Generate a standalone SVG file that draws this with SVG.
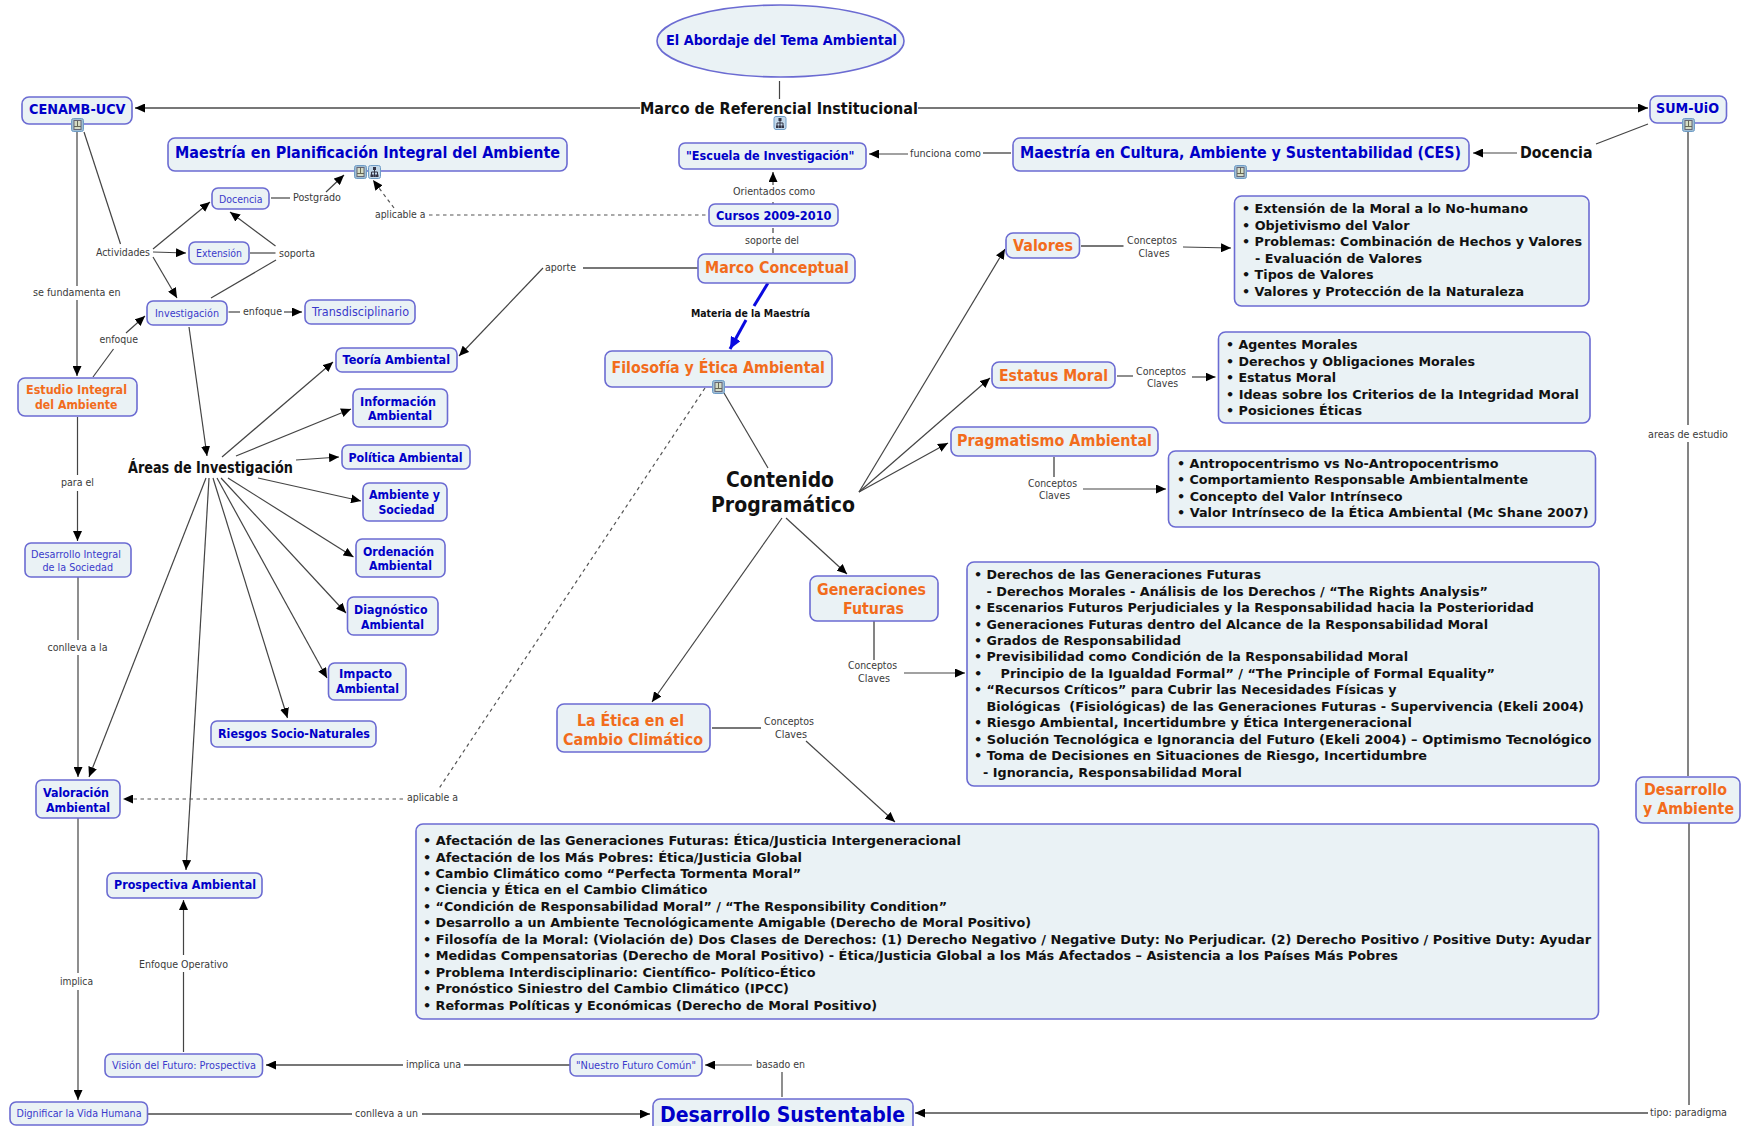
<svg xmlns="http://www.w3.org/2000/svg" width="1744" height="1126" viewBox="0 0 1744 1126">
<style>
text{font-family:"DejaVu Sans","Liberation Sans",sans-serif}
.n{fill:#eaf2f5;stroke:#6b6bd2;stroke-width:1.6}
.b{font-weight:700;font-size:12.5px;fill:#0000c8}
.bl{font-weight:700;font-size:15.5px;fill:#0000c8}
.o{font-weight:700;font-size:12.5px;fill:#f26c1c}
.ol{font-weight:700;font-size:15.5px;fill:#f26c1c}
.s{font-size:10.5px;fill:#3a3acb}
.l{font-size:10.5px;fill:#3b3b3b}
.k{font-weight:700;font-size:15.5px;fill:#111}
.t{font-weight:700;font-size:13px;fill:#111}
.c path,.c line{fill:none;stroke:#444;stroke-width:1.2}
.c .h{stroke:#777;stroke-width:1.8}
.c .d{stroke:#555;stroke-width:1.2;stroke-dasharray:3.5 3.5}
.c .bluew{stroke:#0a0ae0;stroke-width:3}
</style>
<defs>
<marker id="a" viewBox="0 0 10 9" refX="10" refY="4.5" markerWidth="10" markerHeight="9" orient="auto" markerUnits="userSpaceOnUse"><path d="M0 0L10 4.5L0 9Z" fill="#000"/></marker>
<marker id="ab" viewBox="0 0 12 11" refX="12" refY="5.5" markerWidth="12" markerHeight="11" orient="auto" markerUnits="userSpaceOnUse"><path d="M0 0L12 5.5L0 11Z" fill="#0a0ae0"/></marker>
<symbol id="doc" viewBox="0 0 13 14"><rect x=".5" y=".5" width="12" height="13" rx="2" fill="#9fbdd2" stroke="#6f9cc6"/><rect x="3" y="2.500" width="7" height="9" fill="#d5dcc4" stroke="#667"/><path d="M3 8.500H10M6.500 2.500V8.500" stroke="#665" fill="none"/></symbol>
<symbol id="grp" viewBox="0 0 13 14"><rect x=".5" y=".5" width="12" height="13" rx="2" fill="#c3d8ea" stroke="#6f9cc6"/><path d="M6.500 2.500V6M3.500 11V7H9.500V11M6.500 6V11" stroke="#334" fill="none"/><rect x="5" y="2" width="3" height="3" fill="#334"/><rect x="2.500" y="9.500" width="2.500" height="2.500" fill="#334"/><rect x="8" y="9.500" width="2.500" height="2.500" fill="#334"/><rect x="5.300" y="9.500" width="2.500" height="2.500" fill="#334"/></symbol>
</defs>
<rect width="1744" height="1126" fill="#fff"/>
<g id="connectors" class="c">
<line x1="779.500" y1="81" x2="779.500" y2="99"/>
<line class="h" x1="640" y1="108" x2="135" y2="108" marker-end="url(#a)"/>
<line class="h" x1="918" y1="108" x2="1648" y2="108" marker-end="url(#a)"/>
<line x1="1011" y1="153" x2="983" y2="153" class="h"/>
<line x1="908" y1="154" x2="869" y2="154" marker-end="url(#a)"/>
<line x1="1517" y1="153" x2="1473" y2="153" marker-end="url(#a)"/>
<line x1="1648" y1="124" x2="1596" y2="144"/>
<line x1="77" y1="132" x2="77" y2="286"/>
<line x1="77" y1="300" x2="77" y2="376" marker-end="url(#a)"/>
<line x1="84" y1="132" x2="120.500" y2="244"/>
<line x1="153" y1="249" x2="210" y2="202" marker-end="url(#a)"/>
<line x1="153" y1="252" x2="186" y2="253" marker-end="url(#a)"/>
<line x1="153" y1="257" x2="177" y2="298" marker-end="url(#a)"/>
<line x1="271" y1="198" x2="290" y2="198"/>
<line x1="326" y1="192" x2="344" y2="175" marker-end="url(#a)"/>
<line x1="250" y1="253" x2="275.500" y2="253"/>
<line x1="275.500" y1="246" x2="230" y2="212" marker-end="url(#a)"/>
<line x1="211" y1="298" x2="276" y2="260"/>
<line x1="93" y1="377" x2="113.500" y2="349"/>
<line x1="126" y1="333" x2="145" y2="316" marker-end="url(#a)"/>
<line x1="228.500" y1="312" x2="240" y2="312"/>
<line x1="284" y1="312" x2="302" y2="312" marker-end="url(#a)"/>
<line class="d" x1="429" y1="215" x2="708" y2="215"/>
<line class="d" x1="394" y1="208" x2="373" y2="180" marker-end="url(#a)"/>
<line class="h" x1="698" y1="268" x2="583" y2="268"/>
<line x1="543" y1="268" x2="459" y2="356" marker-end="url(#a)"/>
<line x1="773" y1="202" x2="773" y2="204"/>
<line x1="773" y1="185" x2="773" y2="172" marker-end="url(#a)"/>
<line x1="773" y1="228" x2="773" y2="233"/>
<line x1="773" y1="248" x2="773" y2="253"/>
<line class="bluew" x1="768" y1="283" x2="754" y2="306"/>
<line class="bluew" x1="746" y1="320" x2="730" y2="349" marker-end="url(#ab)"/>
<line class="d" x1="705" y1="388" x2="438" y2="790"/>
<line class="d" x1="403" y1="799" x2="123" y2="799" marker-end="url(#a)"/>
<line x1="724" y1="393" x2="768" y2="468"/>
<line x1="859" y1="492" x2="1005" y2="249" marker-end="url(#a)"/>
<line x1="859" y1="492" x2="990" y2="378" marker-end="url(#a)"/>
<line x1="859" y1="492" x2="948" y2="443" marker-end="url(#a)"/>
<line x1="786" y1="518" x2="847" y2="574" marker-end="url(#a)"/>
<line x1="782" y1="518" x2="652" y2="702" marker-end="url(#a)"/>
<line class="h" x1="1081" y1="246" x2="1123.500" y2="246"/>
<line x1="1183" y1="247" x2="1231" y2="248" marker-end="url(#a)"/>
<line x1="1117" y1="376" x2="1133" y2="376"/>
<line x1="1192" y1="377" x2="1215.500" y2="377" marker-end="url(#a)"/>
<line class="h" x1="1054" y1="457" x2="1054" y2="477"/>
<line x1="1083" y1="489" x2="1166" y2="489" marker-end="url(#a)"/>
<line class="h" x1="874" y1="621" x2="874" y2="660"/>
<line x1="904" y1="673" x2="965" y2="673" marker-end="url(#a)"/>
<line class="h" x1="712" y1="728" x2="761" y2="728"/>
<line x1="806" y1="741" x2="895" y2="822" marker-end="url(#a)"/>
<line class="h" x1="1688" y1="132" x2="1688" y2="425"/>
<line class="h" x1="1688" y1="442" x2="1688" y2="776"/>
<line class="h" x1="1689" y1="823" x2="1689" y2="1105"/>
<line class="h" x1="1648" y1="1113" x2="915" y2="1113" marker-end="url(#a)"/>
<line x1="782" y1="1072" x2="782" y2="1097"/>
<line x1="752" y1="1065" x2="705" y2="1065" marker-end="url(#a)"/>
<line class="h" x1="570" y1="1065" x2="464" y2="1065"/>
<line class="h" x1="403" y1="1065" x2="266" y2="1065" marker-end="url(#a)"/>
<line x1="148" y1="1114" x2="352" y2="1114" class="h"/>
<line x1="422" y1="1114" x2="650" y2="1114" class="h" marker-end="url(#a)"/>
<line x1="183.500" y1="1052" x2="183.500" y2="972"/>
<line x1="183.500" y1="955" x2="183.500" y2="900" marker-end="url(#a)"/>
<line x1="78" y1="818" x2="78" y2="973"/>
<line x1="78" y1="990" x2="78" y2="1100" marker-end="url(#a)"/>
<line x1="77.500" y1="417" x2="77.500" y2="475"/>
<line x1="77.500" y1="491" x2="77.500" y2="541" marker-end="url(#a)"/>
<line x1="78" y1="577" x2="78" y2="640"/>
<line x1="78" y1="655" x2="78" y2="777" marker-end="url(#a)"/>
<line x1="189" y1="327" x2="207" y2="456" marker-end="url(#a)"/>
<line x1="206" y1="478" x2="89" y2="777" marker-end="url(#a)"/>
<line x1="209" y1="478" x2="186" y2="870" marker-end="url(#a)"/>
<line x1="222" y1="457" x2="333" y2="362" marker-end="url(#a)"/>
<line x1="236" y1="456" x2="351" y2="409" marker-end="url(#a)"/>
<line x1="296" y1="460" x2="339" y2="457" marker-end="url(#a)"/>
<line x1="258" y1="478" x2="361" y2="501" marker-end="url(#a)"/>
<line x1="228" y1="478" x2="353.500" y2="557" marker-end="url(#a)"/>
<line x1="221" y1="478" x2="346" y2="613" marker-end="url(#a)"/>
<line x1="217" y1="478" x2="327" y2="678" marker-end="url(#a)"/>
<line x1="213" y1="478" x2="287.500" y2="718" marker-end="url(#a)"/>
</g>
<g id="link-labels">
<text class="l" x="293" y="201" textLength="48" lengthAdjust="spacingAndGlyphs">Postgrado</text>
<text class="l" x="375" y="218" textLength="50.500" lengthAdjust="spacingAndGlyphs">aplicable a</text>
<text class="l" x="96" y="256" textLength="54" lengthAdjust="spacingAndGlyphs">Actividades</text>
<text class="l" x="279" y="257" textLength="36" lengthAdjust="spacingAndGlyphs">soporta</text>
<text class="l" x="33" y="296" textLength="87.500" lengthAdjust="spacingAndGlyphs">se fundamenta en</text>
<text class="l" x="99.500" y="343" textLength="38.500" lengthAdjust="spacingAndGlyphs">enfoque</text>
<text class="l" x="243" y="315" textLength="39" lengthAdjust="spacingAndGlyphs">enfoque</text>
<text class="l" x="545" y="271" textLength="31" lengthAdjust="spacingAndGlyphs">aporte</text>
<text class="l" x="910" y="157" textLength="71" lengthAdjust="spacingAndGlyphs">funciona como</text>
<text class="l" x="733" y="195" textLength="82" lengthAdjust="spacingAndGlyphs">Orientados como</text>
<text class="l" x="745" y="244" textLength="54" lengthAdjust="spacingAndGlyphs">soporte del</text>
<text x="691" y="317" textLength="119" lengthAdjust="spacingAndGlyphs" font-size="10.500" font-weight="700" fill="#111">Materia de la Maestría</text>
<text class="l" x="1127" y="244" textLength="50" lengthAdjust="spacingAndGlyphs">Conceptos</text>
<text class="l" x="1138.500" y="257" textLength="31" lengthAdjust="spacingAndGlyphs">Claves</text>
<text class="l" x="1136" y="375" textLength="50" lengthAdjust="spacingAndGlyphs">Conceptos</text>
<text class="l" x="1147" y="387" textLength="31" lengthAdjust="spacingAndGlyphs">Claves</text>
<text class="l" x="1028" y="487" textLength="49" lengthAdjust="spacingAndGlyphs">Conceptos</text>
<text class="l" x="1039" y="499" textLength="31" lengthAdjust="spacingAndGlyphs">Claves</text>
<text class="l" x="848" y="669" textLength="49" lengthAdjust="spacingAndGlyphs">Conceptos</text>
<text class="l" x="858" y="682" textLength="32" lengthAdjust="spacingAndGlyphs">Claves</text>
<text class="l" x="764" y="725" textLength="50" lengthAdjust="spacingAndGlyphs">Conceptos</text>
<text class="l" x="775" y="738" textLength="32" lengthAdjust="spacingAndGlyphs">Claves</text>
<text class="l" x="1648" y="438" textLength="80" lengthAdjust="spacingAndGlyphs">areas de estudio</text>
<text class="l" x="1650" y="1116" textLength="77" lengthAdjust="spacingAndGlyphs">tipo: paradigma</text>
<text class="l" x="756" y="1068" textLength="49" lengthAdjust="spacingAndGlyphs">basado en</text>
<text class="l" x="406" y="1068" textLength="55" lengthAdjust="spacingAndGlyphs">implica una</text>
<text class="l" x="355" y="1117" textLength="63" lengthAdjust="spacingAndGlyphs">conlleva a un</text>
<text class="l" x="139" y="968" textLength="89" lengthAdjust="spacingAndGlyphs">Enfoque Operativo</text>
<text class="l" x="60" y="985" textLength="33" lengthAdjust="spacingAndGlyphs">implica</text>
<text class="l" x="407" y="801" textLength="51" lengthAdjust="spacingAndGlyphs">aplicable a</text>
<text class="l" x="61" y="486" textLength="33" lengthAdjust="spacingAndGlyphs">para el</text>
<text class="l" x="47.500" y="651" textLength="60" lengthAdjust="spacingAndGlyphs">conlleva a la</text>
</g>
<g id="n-abordaje"><ellipse class="n" cx="780.500" cy="41" rx="123.500" ry="36"/><text class="b" x="666" y="45" textLength="231" lengthAdjust="spacingAndGlyphs" style="font-size:14px">El Abordaje del Tema Ambiental</text></g>
<g id="n-marco-ref"><text class="k" x="640" y="114" textLength="278" lengthAdjust="spacingAndGlyphs">Marco de Referencial Institucional</text><use href="#grp" x="773" y="116" width="14" height="14"/></g>
<g id="n-cenamb"><rect class="n" x="22" y="97" width="110" height="27" rx="7"/><text class="b" x="29" y="114" textLength="96.500" lengthAdjust="spacingAndGlyphs" style="font-size:14px">CENAMB-UCV</text><use href="#doc" x="71" y="118" width="13" height="14"/></g>
<g id="n-maestria-pia"><rect class="n" x="168" y="138" width="399" height="33" rx="7"/><text class="bl" x="175" y="158" textLength="385" lengthAdjust="spacingAndGlyphs">Maestría en Planificación Integral del Ambiente</text><use href="#doc" x="354" y="165" width="13" height="14"/><use href="#grp" x="368" y="165" width="13" height="14"/></g>
<g id="n-docencia-small"><rect class="n" x="212" y="188" width="57" height="21" rx="6"/><text class="s" x="219" y="203" textLength="43.500" lengthAdjust="spacingAndGlyphs">Docencia</text></g>
<g id="n-extension"><rect class="n" x="189" y="242" width="60" height="22" rx="6"/><text class="s" x="196" y="257" textLength="46" lengthAdjust="spacingAndGlyphs">Extensión</text></g>
<g id="n-investigacion"><rect class="n" x="147" y="301" width="80" height="24" rx="6"/><text class="s" x="155" y="317" textLength="64" lengthAdjust="spacingAndGlyphs">Investigación</text></g>
<g id="n-transdisciplinario"><rect class="n" x="305" y="300" width="110" height="24" rx="6"/><text class="s" x="312" y="316" textLength="97" lengthAdjust="spacingAndGlyphs" style="font-size:12px">Transdisciplinario</text></g>
<g id="n-teoria"><rect class="n" x="336" y="348" width="121" height="24" rx="6"/><text class="b" x="342.500" y="364" textLength="107.500" lengthAdjust="spacingAndGlyphs">Teoría Ambiental</text></g>
<g id="n-estudio"><rect class="n" x="18" y="378" width="119" height="38" rx="7"/><text class="o" x="26" y="394" textLength="101" lengthAdjust="spacingAndGlyphs">Estudio Integral</text><text class="o" x="35" y="408.500" textLength="82.500" lengthAdjust="spacingAndGlyphs">del Ambiente</text></g>
<g id="n-informacion"><rect class="n" x="353" y="389" width="94.500" height="38" rx="6"/><text class="b" x="360" y="406" textLength="76" lengthAdjust="spacingAndGlyphs">Información</text><text class="b" x="368" y="420" textLength="64" lengthAdjust="spacingAndGlyphs">Ambiental</text></g>
<g id="n-politica"><rect class="n" x="342" y="445" width="128" height="24" rx="6"/><text class="b" x="348.500" y="462" textLength="114" lengthAdjust="spacingAndGlyphs">Política Ambiental</text></g>
<g id="n-ambiente-sociedad"><rect class="n" x="363" y="483" width="84" height="38" rx="6"/><text class="b" x="369" y="499" textLength="71" lengthAdjust="spacingAndGlyphs">Ambiente y</text><text class="b" x="378.500" y="514" textLength="56" lengthAdjust="spacingAndGlyphs">Sociedad</text></g>
<g id="n-ordenacion"><rect class="n" x="356" y="539" width="89" height="38" rx="6"/><text class="b" x="363" y="556" textLength="71" lengthAdjust="spacingAndGlyphs">Ordenación</text><text class="b" x="369" y="570" textLength="63" lengthAdjust="spacingAndGlyphs">Ambiental</text></g>
<g id="n-diagnostico"><rect class="n" x="347.500" y="597" width="90.500" height="38" rx="6"/><text class="b" x="354" y="614" textLength="73.500" lengthAdjust="spacingAndGlyphs">Diagnóstico</text><text class="b" x="361" y="629" textLength="63" lengthAdjust="spacingAndGlyphs">Ambiental</text></g>
<g id="n-impacto"><rect class="n" x="328.500" y="663" width="77.500" height="37" rx="6"/><text class="b" x="339" y="678" textLength="53" lengthAdjust="spacingAndGlyphs">Impacto</text><text class="b" x="336" y="693" textLength="63" lengthAdjust="spacingAndGlyphs">Ambiental</text></g>
<g id="n-riesgos"><rect class="n" x="211" y="721" width="165" height="26" rx="6"/><text class="b" x="218" y="737.500" textLength="152" lengthAdjust="spacingAndGlyphs">Riesgos Socio-Naturales</text></g>
<g id="n-areas"><text class="k" x="128" y="473" textLength="165" lengthAdjust="spacingAndGlyphs">Áreas de Investigación</text></g>
<g id="n-desarrollo-integral"><rect class="n" x="25" y="543" width="106" height="34" rx="6"/><text class="s" x="31" y="558" textLength="90" lengthAdjust="spacingAndGlyphs">Desarrollo Integral</text><text class="s" x="42.500" y="571" textLength="70.500" lengthAdjust="spacingAndGlyphs">de la Sociedad</text></g>
<g id="n-valoracion"><rect class="n" x="36" y="780" width="84" height="38" rx="6"/><text class="b" x="43" y="797" textLength="66" lengthAdjust="spacingAndGlyphs">Valoración</text><text class="b" x="46" y="812" textLength="64" lengthAdjust="spacingAndGlyphs">Ambiental</text></g>
<g id="n-prospectiva"><rect class="n" x="107" y="873" width="155" height="25" rx="6"/><text class="b" x="114" y="889" textLength="142" lengthAdjust="spacingAndGlyphs">Prospectiva Ambiental</text></g>
<g id="n-vision"><rect class="n" x="105" y="1054" width="157.500" height="23" rx="6"/><text class="s" x="112" y="1069" textLength="144" lengthAdjust="spacingAndGlyphs">Visión del Futuro: Prospectiva</text></g>
<g id="n-dignificar"><rect class="n" x="10" y="1102" width="137.500" height="23" rx="6"/><text class="s" x="16.500" y="1117" textLength="125" lengthAdjust="spacingAndGlyphs">Dignificar la Vida Humana</text></g>
<g id="n-nuestro"><rect class="n" x="570" y="1054" width="132" height="22" rx="6"/><text class="s" x="576" y="1069" textLength="120" lengthAdjust="spacingAndGlyphs">"Nuestro Futuro Común"</text></g>
<g id="n-desarrollo-sust"><rect class="n" x="653" y="1099" width="260" height="34" rx="7"/><text class="b" x="660" y="1122" textLength="245" lengthAdjust="spacingAndGlyphs" style="font-size:22px">Desarrollo Sustentable</text></g>
<g id="n-escuela"><rect class="n" x="679" y="143" width="187" height="26" rx="6"/><text class="b" x="686" y="160" textLength="168.500" lengthAdjust="spacingAndGlyphs">"Escuela de Investigación"</text></g>
<g id="n-maestria-ces"><rect class="n" x="1013" y="138" width="456" height="33" rx="7"/><text class="bl" x="1020" y="158" textLength="441" lengthAdjust="spacingAndGlyphs">Maestría en Cultura, Ambiente y Sustentabilidad (CES)</text><use href="#doc" x="1234" y="165" width="13" height="14"/></g>
<g id="n-docencia"><text class="k" x="1520" y="158" textLength="72.500" lengthAdjust="spacingAndGlyphs">Docencia</text></g>
<g id="n-sum"><rect class="n" x="1650" y="96" width="76.500" height="27" rx="7"/><text class="b" x="1656" y="113" textLength="63" lengthAdjust="spacingAndGlyphs" style="font-size:14px">SUM-UiO</text><use href="#doc" x="1682" y="118" width="13" height="14"/></g>
<g id="n-cursos"><rect class="n" x="709" y="204" width="129" height="22" rx="6"/><text class="b" x="716" y="220" textLength="115.500" lengthAdjust="spacingAndGlyphs">Cursos 2009-2010</text></g>
<g id="n-marco-conceptual"><rect class="n" x="698" y="254" width="157" height="29" rx="7"/><text class="ol" x="705" y="273" textLength="144" lengthAdjust="spacingAndGlyphs">Marco Conceptual</text></g>
<g id="n-filosofia"><rect class="n" x="605" y="351" width="227" height="36" rx="7"/><text class="ol" x="611.500" y="373" textLength="213.500" lengthAdjust="spacingAndGlyphs">Filosofía y Ética Ambiental</text><use href="#doc" x="712" y="380" width="13" height="14"/></g>
<g id="n-contenido"><text class="k" x="726" y="487" textLength="108" lengthAdjust="spacingAndGlyphs" style="font-size:21.500px">Contenido</text><text class="k" x="711" y="512" textLength="144" lengthAdjust="spacingAndGlyphs" style="font-size:21.500px">Programático</text></g>
<g id="n-valores"><rect class="n" x="1006" y="233" width="73.500" height="25" rx="7"/><text class="ol" x="1013" y="251" textLength="60" lengthAdjust="spacingAndGlyphs">Valores</text></g>
<g id="n-estatus"><rect class="n" x="992" y="362" width="123" height="26" rx="7"/><text class="ol" x="999" y="381" textLength="109" lengthAdjust="spacingAndGlyphs">Estatus Moral</text></g>
<g id="n-pragmatismo"><rect class="n" x="951" y="427" width="207" height="29" rx="7"/><text class="ol" x="957" y="446" textLength="195" lengthAdjust="spacingAndGlyphs">Pragmatismo Ambiental</text></g>
<g id="n-generaciones"><rect class="n" x="810" y="576" width="128" height="45" rx="7"/><text class="ol" x="817" y="595" textLength="109" lengthAdjust="spacingAndGlyphs">Generaciones</text><text class="ol" x="843" y="614" textLength="61" lengthAdjust="spacingAndGlyphs">Futuras</text></g>
<g id="n-etica-cambio"><rect class="n" x="557" y="704" width="153" height="48" rx="7"/><text class="ol" x="577" y="726" textLength="107" lengthAdjust="spacingAndGlyphs">La Ética en el</text><text class="ol" x="563" y="745" textLength="140" lengthAdjust="spacingAndGlyphs">Cambio Climático</text></g>
<g id="n-desarrollo-ambiente"><rect class="n" x="1636" y="777" width="104" height="46" rx="7"/><text class="ol" x="1644" y="795" textLength="83" lengthAdjust="spacingAndGlyphs">Desarrollo</text><text class="ol" x="1643" y="814" textLength="91" lengthAdjust="spacingAndGlyphs">y Ambiente</text></g>
<g id="n-lista-valores"><rect class="n" x="1234.500" y="196" width="354.500" height="110" rx="7"/>
<text class="t" x="1242" y="213" textLength="286" lengthAdjust="spacingAndGlyphs">• Extensión de la Moral a lo No-humano</text>
<text class="t" x="1242" y="229.500" textLength="167.500" lengthAdjust="spacingAndGlyphs">• Objetivismo del Valor</text>
<text class="t" x="1242" y="246" textLength="340" lengthAdjust="spacingAndGlyphs">• Problemas: Combinación de Hechos y Valores</text>
<text class="t" x="1255" y="262.500" textLength="167" lengthAdjust="spacingAndGlyphs">- Evaluación de Valores</text>
<text class="t" x="1242" y="279" textLength="131.500" lengthAdjust="spacingAndGlyphs">• Tipos de Valores</text>
<text class="t" x="1242" y="295.500" textLength="282" lengthAdjust="spacingAndGlyphs">• Valores y Protección de la Naturaleza</text></g>
<g id="n-lista-estatus"><rect class="n" x="1218.500" y="332" width="371.500" height="91" rx="7"/>
<text class="t" x="1226" y="349" textLength="131.500" lengthAdjust="spacingAndGlyphs">• Agentes Morales</text>
<text class="t" x="1226" y="365.500" textLength="249" lengthAdjust="spacingAndGlyphs">• Derechos y Obligaciones Morales</text>
<text class="t" x="1226" y="382" textLength="110" lengthAdjust="spacingAndGlyphs">• Estatus Moral</text>
<text class="t" x="1226" y="398.500" textLength="353" lengthAdjust="spacingAndGlyphs">• Ideas sobre los Criterios de la Integridad Moral</text>
<text class="t" x="1226" y="415" textLength="136" lengthAdjust="spacingAndGlyphs">• Posiciones Éticas</text></g>
<g id="n-lista-pragmatismo"><rect class="n" x="1168.500" y="451" width="427" height="76" rx="7"/>
<text class="t" x="1177" y="467.500" textLength="321.500" lengthAdjust="spacingAndGlyphs">• Antropocentrismo vs No-Antropocentrismo</text>
<text class="t" x="1177" y="484" textLength="351" lengthAdjust="spacingAndGlyphs">• Comportamiento Responsable Ambientalmente</text>
<text class="t" x="1177" y="500.500" textLength="225.500" lengthAdjust="spacingAndGlyphs">• Concepto del Valor Intrínseco</text>
<text class="t" x="1177" y="517" textLength="411.500" lengthAdjust="spacingAndGlyphs">• Valor Intrínseco de la Ética Ambiental (Mc Shane 2007)</text></g>
<g id="n-lista-generaciones"><rect class="n" x="967" y="562" width="632" height="224" rx="7"/>
<text class="t" x="974" y="579" textLength="287" lengthAdjust="spacingAndGlyphs">• Derechos de las Generaciones Futuras</text>
<text class="t" x="986.500" y="595.500" textLength="501.500" lengthAdjust="spacingAndGlyphs">- Derechos Morales - Análisis de los Derechos / “The Rights Analysis”</text>
<text class="t" x="974" y="612" textLength="560" lengthAdjust="spacingAndGlyphs">• Escenarios Futuros Perjudiciales y la Responsabilidad hacia la Posterioridad</text>
<text class="t" x="974" y="628.500" textLength="514" lengthAdjust="spacingAndGlyphs">• Generaciones Futuras dentro del Alcance de la Responsabilidad Moral</text>
<text class="t" x="974" y="645" textLength="207" lengthAdjust="spacingAndGlyphs">• Grados de Responsabilidad</text>
<text class="t" x="974" y="661" textLength="434" lengthAdjust="spacingAndGlyphs">• Previsibilidad como Condición de la Responsabilidad Moral</text>
<text class="t" x="974" y="677.500">•</text>
<text class="t" x="1000.500" y="677.500" textLength="494.500" lengthAdjust="spacingAndGlyphs">Principio de la Igualdad Formal” / “The Principle of Formal Equality”</text>
<text class="t" x="974" y="694" textLength="422.500" lengthAdjust="spacingAndGlyphs">• “Recursos Críticos” para Cubrir las Necesidades Físicas y</text>
<text class="t" x="986.500" y="710.500" textLength="597.500" lengthAdjust="spacingAndGlyphs" xml:space="preserve">Biológicas  (Fisiológicas) de las Generaciones Futuras - Supervivencia (Ekeli 2004)</text>
<text class="t" x="974" y="727" textLength="438" lengthAdjust="spacingAndGlyphs">• Riesgo Ambiental, Incertidumbre y Ética Intergeneracional</text>
<text class="t" x="974" y="743.500" textLength="617.500" lengthAdjust="spacingAndGlyphs">• Solución Tecnológica e Ignorancia del Futuro (Ekeli 2004) – Optimismo Tecnológico</text>
<text class="t" x="974" y="760" textLength="453" lengthAdjust="spacingAndGlyphs">• Toma de Decisiones en Situaciones de Riesgo, Incertidumbre</text>
<text class="t" x="983" y="776.500" textLength="259" lengthAdjust="spacingAndGlyphs">- Ignorancia, Responsabilidad Moral</text></g>
<g id="n-lista-cambio"><rect class="n" x="416" y="824" width="1182.500" height="195" rx="7"/>
<text class="t" x="423" y="845" textLength="538" lengthAdjust="spacingAndGlyphs">• Afectación de las Generaciones Futuras: Ética/Justicia Intergeneracional</text>
<text class="t" x="423" y="861.500" textLength="379" lengthAdjust="spacingAndGlyphs">• Afectación de los Más Pobres: Ética/Justicia Global</text>
<text class="t" x="423" y="877.500" textLength="378" lengthAdjust="spacingAndGlyphs">• Cambio Climático como “Perfecta Tormenta Moral”</text>
<text class="t" x="423" y="894" textLength="284.500" lengthAdjust="spacingAndGlyphs">• Ciencia y Ética en el Cambio Climático</text>
<text class="t" x="423" y="910.500" textLength="524" lengthAdjust="spacingAndGlyphs">• “Condición de Responsabilidad Moral” / “The Responsibility Condition”</text>
<text class="t" x="423" y="927" textLength="608" lengthAdjust="spacingAndGlyphs">• Desarrollo a un Ambiente Tecnológicamente Amigable (Derecho de Moral Positivo)</text>
<text class="t" x="423" y="943.500" textLength="1168" lengthAdjust="spacingAndGlyphs">• Filosofía de la Moral: (Violación de) Dos Clases de Derechos: (1) Derecho Negativo / Negative Duty: No Perjudicar. (2) Derecho Positivo / Positive Duty: Ayudar</text>
<text class="t" x="423" y="960" textLength="975" lengthAdjust="spacingAndGlyphs">• Medidas Compensatorias (Derecho de Moral Positivo) - Ética/Justicia Global a los Más Afectados – Asistencia a los Países Más Pobres</text>
<text class="t" x="423" y="976.500" textLength="392.500" lengthAdjust="spacingAndGlyphs">• Problema Interdisciplinario: Científico- Político-Ético</text>
<text class="t" x="423" y="993" textLength="366" lengthAdjust="spacingAndGlyphs">• Pronóstico Siniestro del Cambio Climático (IPCC)</text>
<text class="t" x="423" y="1009.500" textLength="454" lengthAdjust="spacingAndGlyphs">• Reformas Políticas y Económicas (Derecho de Moral Positivo)</text></g>
</svg>
